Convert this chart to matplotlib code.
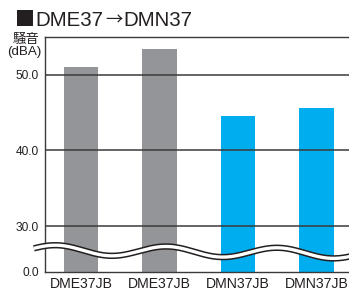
import numpy as np
import matplotlib
matplotlib.use("Agg")
import matplotlib.pyplot as plt
import matplotlib.patheffects as pe
from matplotlib.textpath import TextPath
from matplotlib.font_manager import FontProperties

categories = ["DME37JB", "DME37JB", "DMN37JB", "DMN37JB"]
values = [51.1, 53.4, 44.5, 45.6]
colors = ["#939598", "#939598", "#00AEEF", "#00AEEF"]
ytick_vals = [0.0, 30.0, 40.0, 50.0]
ytick_labels = ["0.0", "30.0", "40.0", "50.0"]
title_parts = ["■", "DME37", "→", "DMN37"]
ylabel_lines = ["騒音", "(dBA)"]

BREAK = 30.0
SHIFT = 24.0  # compressed gap: 0..30 shown as 0..6


def tr(v):
    v = np.asarray(v, dtype=float)
    return np.where(v >= BREAK, v - SHIFT, v * (BREAK - SHIFT) / BREAK)


LATIN = ['Liberation Sans', 'DejaVu Sans']
CJK = ['Noto Sans CJK JP', 'DejaVu Sans']
plt.rcParams['font.family'] = ['Liberation Sans', 'Noto Sans CJK JP', 'DejaVu Sans']
INK = "#231f20"

W, H = 349, 290
fig = plt.figure(figsize=(W / 100, H / 100), dpi=100)
ax = fig.add_axes([44.5 / W, 1 - 271.5 / H, (W - 44.5) / W, (271.5 - 37) / H])

x = np.arange(len(categories))
ax.bar(x, tr(values), width=0.44, color=colors, zorder=2)

ax.set_xlim(-0.465, 3.41)
ax.set_ylim(0, float(tr(55.0)))

for v in [30.0, 40.0, 50.0]:
    ax.axhline(float(tr(v)), color="#3a3a3a", lw=1.1, zorder=3)

ax.set_yticks(tr(ytick_vals))
ax.set_yticklabels(ytick_labels, fontsize=8.6, color=INK)
ax.set_xticks(x)
ax.set_xticklabels(categories, fontsize=10.1, color=INK)
ax.tick_params(axis="both", length=0)
ax.tick_params(axis="y", pad=4)
ax.tick_params(axis="x", pad=4)

for s in ["left", "bottom", "top"]:
    ax.spines[s].set_color("#3a3a3a")
    ax.spines[s].set_linewidth(1.0)
ax.spines["right"].set_visible(False)

# break wave (decoration)
wx = np.linspace(-0.6, 3.5, 400)
wy = 2.85 + 0.66 * np.sin(2 * np.pi * (wx + 0.32) / 1.41 + np.pi / 2) - 0.12 * (wx + 0.6)
ax.plot(wx, wy, color="white", lw=2.4, zorder=5, clip_on=False,
        solid_capstyle="butt",
        path_effects=[pe.Stroke(linewidth=4.6, foreground=INK), pe.Normal()])

# ---- title built from pieces in different fonts ----
px2pt = 72.0 / 100.0
base_y = 1 - 26 / H


def ink_box(s, fam):
    tp = TextPath((0, 0), s, size=1.0, prop=FontProperties(family=fam))
    v = tp.vertices
    return v[:, 0].min(), v[:, 0].max(), v[:, 1].min(), v[:, 1].max()


# square: ink 16 px tall, left edge at x=15, bottom at baseline 26
x0, x1, y0, y1 = ink_box(title_parts[0], CJK)
sq_px = 16.0 / (y1 - y0)
fig.text((15 - x0 * sq_px) / W, (H - 26 - y0 * sq_px) / H, title_parts[0],
         fontsize=sq_px * px2pt, va="baseline", ha="left", color=INK, family=CJK)

lat_pt = 14.8
arr_pt = 12.5
cx = 35.5
for part, fam, sz in [(title_parts[1], LATIN, lat_pt), (title_parts[2], CJK, arr_pt),
                      (title_parts[3], LATIN, lat_pt)]:
    bx0, bx1, _, _ = ink_box(part, fam)
    szpx = sz / px2pt
    fig.text((cx - bx0 * szpx) / W, base_y, part, fontsize=sz, va="baseline",
             ha="left", color=INK, family=fam)
    cx = cx + (bx1 - bx0) * szpx + 2.0

fig.text(26 / W, 1 - 38.5 / H, ylabel_lines[0], fontsize=9.6, va="center", ha="center",
         color=INK, family=CJK)
fig.text(24.5 / W, 1 - 52 / H, ylabel_lines[1], fontsize=9.6, va="center", ha="center",
         color=INK, family=LATIN)

fig.savefig("out.png", dpi=100)
